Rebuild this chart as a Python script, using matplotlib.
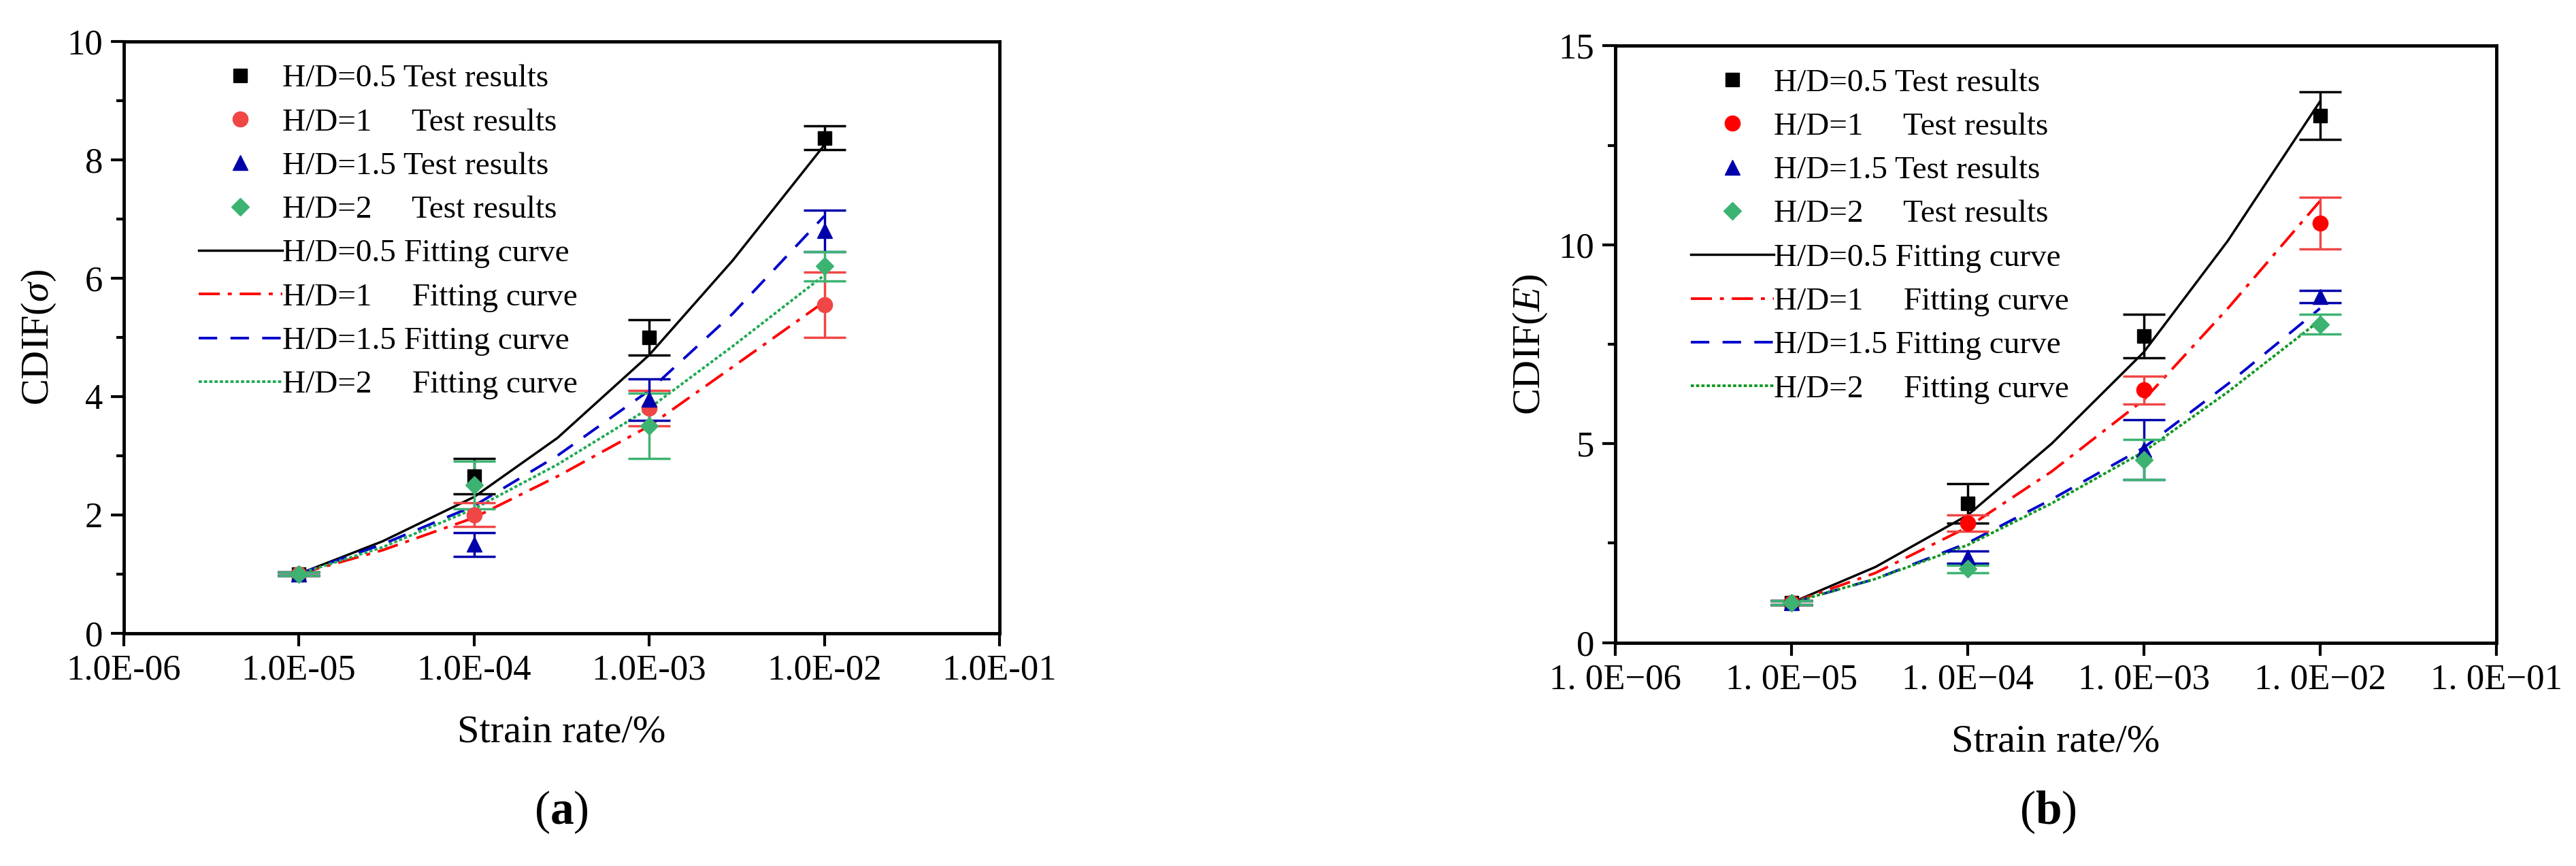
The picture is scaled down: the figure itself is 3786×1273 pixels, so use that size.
import numpy as np
import matplotlib
matplotlib.use("Agg")
import matplotlib.pyplot as plt
from matplotlib.ticker import FixedLocator

plt.rcParams['font.family'] = ['Liberation Serif', 'DejaVu Serif']
plt.rcParams['mathtext.fontset'] = 'custom'
plt.rcParams['mathtext.rm'] = 'Liberation Serif'
plt.rcParams['mathtext.it'] = 'Liberation Serif:italic'
plt.rcParams['mathtext.bf'] = 'Liberation Serif:bold'

x_test = [1e-5, 1e-4, 1e-3, 1e-2]
x_fit = [1e-5, 3e-5, 1e-4, 3e-4, 1e-3, 3e-3, 1e-2]
labels_hd = ["H/D=0.5", "H/D=1    ", "H/D=1.5", "H/D=2    "]

# (a) CDIF(sigma)
a_y = [[1, 2.65, 5.0, 8.37], [1, 2.0, 3.8, 5.55], [1, 1.5, 3.95, 6.8], [1, 2.5, 3.5, 6.2]]
a_err = [[0.03, 0.3, 0.3, 0.2], [0.03, 0.2, 0.3, 0.55], [0.03, 0.2, 0.35, 0.35], [0.03, 0.4, 0.55, 0.25]]
a_fit = [[1, 1.55, 2.3, 3.3, 4.7, 6.3, 8.25],
         [1, 1.4, 1.95, 2.65, 3.5, 4.5, 5.6],
         [1, 1.5, 2.15, 3.0, 4.1, 5.4, 7.05],
         [1, 1.45, 2.1, 2.85, 3.8, 4.85, 6.05]]
# (b) CDIF(E)
b_y = [[1, 3.5, 7.7, 13.25], [1, 3.0, 6.35, 10.55], [1, 2.15, 4.85, 8.7], [1, 1.85, 4.6, 8.0]]
b_err = [[0.05, 0.5, 0.55, 0.6], [0.05, 0.2, 0.35, 0.65], [0.05, 0.15, 0.75, 0.15], [0.05, 0.1, 0.5, 0.25]]
b_fit = [[1, 1.9, 3.2, 5.0, 7.3, 10.1, 13.6],
         [1, 1.75, 2.9, 4.3, 6.1, 8.4, 11.1],
         [1, 1.6, 2.5, 3.6, 4.9, 6.5, 8.4],
         [1, 1.6, 2.45, 3.5, 4.8, 6.3, 8.1]]

a_xt = ["1.0E-06", "1.0E-05", "1.0E-04", "1.0E-03", "1.0E-02", "1.0E-01"]
b_xt = ["1. 0E\u221206", "1. 0E\u221205", "1. 0E\u221204", "1. 0E\u221203", "1. 0E\u221202", "1. 0E\u221201"]

mk_col = ["black", "#f04646", "#0000aa", "#3cb371"]
mk_col_b = ["black", "#ff0000", "#0000aa", "#3cb371"]
err_col = ["black", "#f04646", "#0000aa", "#3cb371"]
markers = ["s", "o", "^", "D"]
msize = [14, 16, 16, 13]
line_col = ["black", "#ff0000", "#0000cc", "#22aa55"]
line_col_b = ["black", "#ff0000", "#0000cc", "#119922"]
line_sty = ["-", (0, (8, 3, 1.5, 3)), (0, (7, 5)), (0, (1.2, 0.8))]

fig = plt.figure(figsize=(37.86, 12.73), dpi=100)
axA = fig.add_axes([0.048, 0.269, 0.340, 0.683])
axB = fig.add_axes([0.627, 0.258, 0.342, 0.689])

def draw(ax, ys, errs, fits, mcols, lcols, ylim, yticks, yminor, xt, ylabel):
    hs = []
    for i in range(4):
        ax.errorbar(x_test, ys[i], yerr=errs[i], fmt="none", ecolor=err_col[i],
                    elinewidth=2.5, capsize=22, capthick=2.5, zorder=3)
        h = ax.plot(x_test, ys[i], linestyle="none", marker=markers[i], ms=msize[i],
                    color=mcols[i], zorder=4, label=labels_hd[i] + " Test results")[0]
        hs.append(h)
    for i in range(4):
        h = ax.plot(x_fit, fits[i], color=lcols[i], linestyle=line_sty[i], lw=2.8 if i else 2.5,
                    zorder=2, label=labels_hd[i] + " Fitting curve")[0]
        hs.append(h)
    ax.set_xscale("log")
    ax.set_xlim(1e-6, 1e-1)
    ax.set_ylim(*ylim)
    ax.xaxis.set_major_locator(FixedLocator([1e-6, 1e-5, 1e-4, 1e-3, 1e-2, 1e-1]))
    ax.xaxis.set_minor_locator(FixedLocator([]))
    ax.set_xticklabels(xt)
    ax.set_yticks(yticks)
    ax.yaxis.set_minor_locator(FixedLocator(yminor))
    ax.tick_params(axis="both", which="major", direction="out", length=14, width=3, labelsize=38, pad=8)
    ax.tick_params(axis="both", which="minor", direction="out", length=8, width=3)
    for s in ax.spines.values():
        s.set_linewidth(3.5)
    ax.set_xlabel("Strain rate/%", fontsize=42, labelpad=30)
    ax.set_ylabel(ylabel, fontsize=42, labelpad=10)
    ax.legend(handles=hs, loc="upper left", frameon=False, fontsize=34, handlelength=2.6,
              handletextpad=0.0, labelspacing=0.45, borderaxespad=0.3, bbox_to_anchor=(0.06, 1.0),
              markerfirst=True)

draw(axA, a_y, a_err, a_fit, mk_col, line_col, (0, 10), [0, 2, 4, 6, 8, 10], [1, 3, 5, 7, 9],
     a_xt, r"CDIF($\sigma$)")
draw(axB, b_y, b_err, b_fit, mk_col_b, line_col_b, (0, 15), [0, 5, 10, 15], [2.5, 7.5, 12.5],
     b_xt, r"CDIF($E$)")

fig.text(0.218, 0.035, r"($\mathbf{a}$)", fontsize=50, ha="center", va="bottom")
fig.text(0.795, 0.035, r"($\mathbf{b}$)", fontsize=50, ha="center", va="bottom")

fig.savefig("out.png", dpi=100)
